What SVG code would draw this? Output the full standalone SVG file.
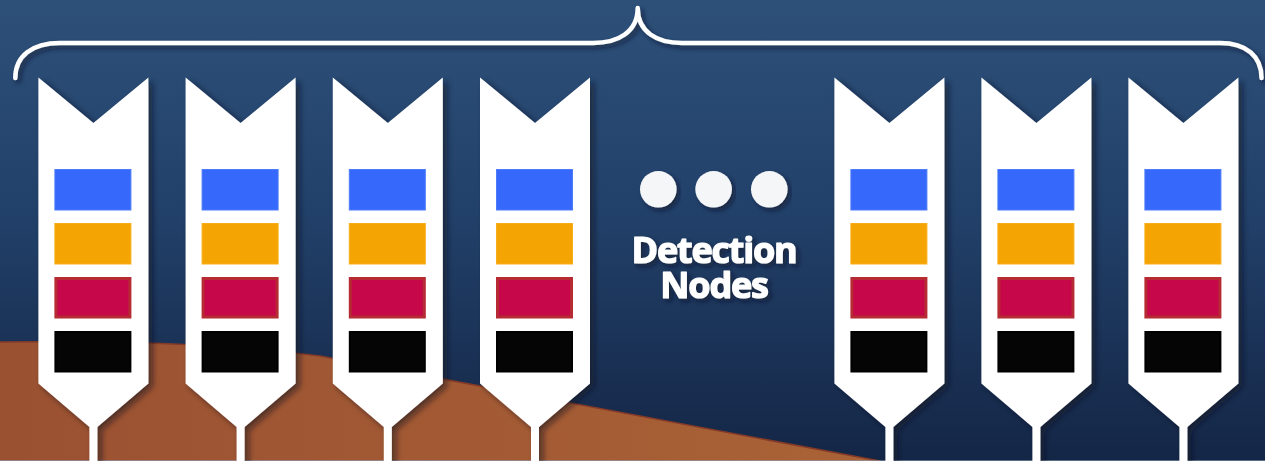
<svg xmlns="http://www.w3.org/2000/svg" width="1265" height="461" viewBox="0 0 1265 461">
  <defs>
    <linearGradient id="sky" x1="0" y1="0" x2="0" y2="1">
      <stop offset="0" stop-color="#2d5079"/>
      <stop offset="0.45" stop-color="#22416a"/>
      <stop offset="1" stop-color="#142646"/>
    </linearGradient>
    <linearGradient id="soil" x1="0" y1="0" x2="1" y2="0">
      <stop offset="0" stop-color="#9a5132"/>
      <stop offset="1" stop-color="#aa6236"/>
    </linearGradient>
    <filter id="nodeShadow" x="-20%" y="-10%" width="140%" height="120%">
      <feDropShadow dx="4" dy="3" stdDeviation="3" flood-color="#08111f" flood-opacity="0.6"/>
    </filter>
    <filter id="chipShadow" x="-20%" y="-30%" width="150%" height="170%">
      <feDropShadow dx="3" dy="4" stdDeviation="2.5" flood-color="#4a4a4a" flood-opacity="0.6"/>
    </filter>
    <filter id="softShadow" x="-10%" y="-30%" width="120%" height="170%">
      <feDropShadow dx="3" dy="3" stdDeviation="2.5" flood-color="#0a1426" flood-opacity="0.6"/>
    </filter>
    <!-- one sensor column: chevron top, tapered bottom, thin stem -->
    <path id="post" d="M0,77.5 L55,123 L110,77.5 L110,383.5 L59,427 L59,461 L51,461 L51,427 L0,383.5 Z"/>
    <g id="chips">
      <rect class="blue" x="16.5" y="169.5" width="76" height="40.5"/>
      <rect class="amber" x="16.5" y="223.5" width="76" height="40.5"/>
      <rect class="crimson" x="17.5" y="278.5" width="74" height="38.5"/>
      <rect class="ink" x="17" y="332" width="75" height="39.5"/>
    </g>
  </defs>
  <style>
    .post { fill: #ffffff; filter: url(#nodeShadow); }
    .chips rect { filter: url(#chipShadow); }
    .blue { fill: #3568fb; stroke: #4c7cfb; stroke-width: 1; }
    .amber { fill: #f5a503; stroke: #f7ad1a; stroke-width: 1; }
    .crimson { fill: #c6084b; stroke: #b52a33; stroke-width: 3; }
    .ink { fill: #050505; stroke: #000000; stroke-width: 2; }
    .brace { fill: none; stroke: #ffffff; stroke-width: 4.5; stroke-linecap: round; stroke-linejoin: round; filter: url(#softShadow); }
    .dot { fill: #f4f6f8; filter: url(#softShadow); }
    .label { font-family: "Open Sans", "Liberation Sans", sans-serif; font-weight: 700; font-size: 36px; letter-spacing: -1.2px; fill: #ffffff; stroke: #ffffff; stroke-width: 1.2; stroke-linejoin: round; text-anchor: middle; filter: url(#softShadow); }
  </style>

  <!-- backdrop -->
  <rect x="0" y="0" width="1265" height="461" fill="url(#sky)"/>

  <!-- ground -->
  <path d="M0,342 C120,341 220,343 320,356 L880,461 L0,461 Z" fill="url(#soil)"/>
  <path d="M0,342 C120,341 220,343 320,356 L880,461" fill="none" stroke="#843a28" stroke-width="1.5"/>
  <line x1="0" y1="460.5" x2="1265" y2="460.5" stroke="#8f9fb8" stroke-width="1" opacity="0.6"/>

  <!-- grouping brace over the nodes -->
  <g id="connectors">
    <path class="brace" d="M15.3,78 C15.3,56 32,43 60,43 L593,43 C618,43 637.7,32 637.7,8 C637.7,32 657,43 682,43 L1220,43 C1246,43 1261.5,56 1261.5,78"/>
  </g>

  <!-- detection nodes -->
  <g id="node-1" transform="translate(38.4,0)">
    <use href="#post" class="post"/>
    <use href="#chips" class="chips"/>
  </g>
  <g id="node-2" transform="translate(185.6,0)">
    <use href="#post" class="post"/>
    <use href="#chips" class="chips"/>
  </g>
  <g id="node-3" transform="translate(332.8,0)">
    <use href="#post" class="post"/>
    <use href="#chips" class="chips"/>
  </g>
  <g id="node-4" transform="translate(480,0)">
    <use href="#post" class="post"/>
    <use href="#chips" class="chips"/>
  </g>
  <g id="node-5" transform="translate(834.4,0)">
    <use href="#post" class="post"/>
    <use href="#chips" class="chips"/>
  </g>
  <g id="node-6" transform="translate(981.4,0)">
    <use href="#post" class="post"/>
    <use href="#chips" class="chips"/>
  </g>
  <g id="node-7" transform="translate(1128.4,0)">
    <use href="#post" class="post"/>
    <use href="#chips" class="chips"/>
  </g>

  <!-- ellipsis and caption -->
  <g id="ellipsis">
    <circle class="dot" cx="658.3" cy="189.3" r="18.3"/>
    <circle class="dot" cx="713.6" cy="189.3" r="18.3"/>
    <circle class="dot" cx="769.3" cy="189.3" r="18.3"/>
    <text class="label" x="714" y="263">Detection</text>
    <text class="label" x="714" y="298">Nodes</text>
  </g>
</svg>
